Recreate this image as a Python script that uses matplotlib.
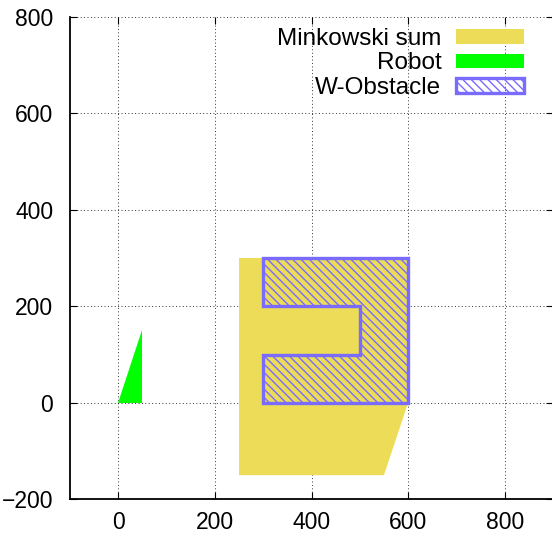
import matplotlib
matplotlib.use('Agg')
import matplotlib.pyplot as plt
from matplotlib.patches import Polygon

plt.rcParams['font.family'] = ['Liberation Sans', 'DejaVu Sans']
plt.rcParams['hatch.linewidth'] = 1.0

# polygons (x, y) vertices
robot_x = [0, 50, 50]
robot_y = [0, 0, 150]
obst_x = [300, 600, 600, 300, 300, 500, 500, 300]
obst_y = [0, 0, 300, 300, 200, 200, 100, 100]
mink_x = [250, 550, 600, 600, 250]
mink_y = [-150, -150, 0, 300, 300]

xticks = [0, 200, 400, 600, 800]
yticks = [-200, 0, 200, 400, 600, 800]

fig = plt.figure(figsize=(5.52, 5.35), dpi=100)
ax = fig.add_axes([70 / 552, 1 - 499.3 / 535, 483 / 552, 482.6 / 535])

ax.add_patch(Polygon(list(zip(mink_x, mink_y)), closed=True,
                     facecolor='#ecdc58', edgecolor='none', label='Minkowski sum'))
ax.add_patch(Polygon(list(zip(robot_x, robot_y)), closed=True,
                     facecolor='#00ff00', edgecolor='none', label='Robot'))
ax.add_patch(Polygon(list(zip(obst_x, obst_y)), closed=True,
                     facecolor='none', edgecolor='#7a6bff', hatch='\\\\\\\\',
                     linewidth=2.4, label='W-Obstacle'))

ax.set_xlim(-100, 900)
ax.set_ylim(-200, 800)
ax.set_xticks(xticks)
ax.set_yticks(yticks)
ax.grid(True, color='black', linestyle=(0, (1, 2.5)), linewidth=0.7, alpha=0.8)
ax.set_axisbelow(True)

for s in ['top', 'right']:
    ax.spines[s].set_visible(False)
for s in ['left', 'bottom']:
    ax.spines[s].set_linewidth(1.3)

ax.tick_params(direction='in', length=5, width=0.8, top=True, right=True,
               labelsize=16.5)
ax.tick_params(axis='x', pad=8.5)
ax.tick_params(axis='y', pad=12)

ax.legend(loc='upper right', bbox_to_anchor=(524 / 552, 1 - 28 / 535),
          bbox_transform=fig.transFigure, frameon=False, markerfirst=False,
          fontsize=17.5, handlelength=2.8, handleheight=0.55,
          handletextpad=0.6, labelspacing=0.1, borderpad=0, borderaxespad=0)

fig.savefig('out.png', dpi=100)
